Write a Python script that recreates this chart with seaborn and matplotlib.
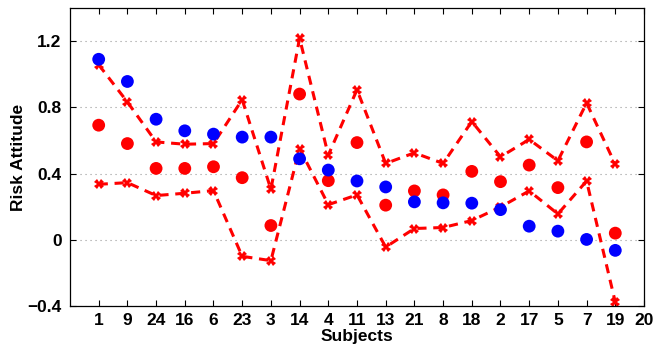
import matplotlib
matplotlib.use("Agg")
import matplotlib.pyplot as plt
import seaborn as sns
import numpy as np
import pandas as pd

subjects = ["1", "9", "24", "16", "6", "23", "3", "14", "4", "11", "13", "21",
            "8", "18", "2", "17", "5", "7", "19", "20"]
blue_vals = [1.09, 0.956, 0.728, 0.658, 0.638, 0.62, 0.62, 0.489, 0.421, 0.355,
             0.319, 0.229, 0.223, 0.221, 0.182, 0.082, 0.052, 0.002, -0.064]
red_vals = [0.692, 0.581, 0.431, 0.431, 0.441, 0.375, 0.086, 0.880, 0.357, 0.587,
            0.209, 0.295, 0.271, 0.413, 0.351, 0.451, 0.315, 0.591, 0.040]
upper_vals = [1.057, 0.832, 0.591, 0.577, 0.581, 0.846, 0.305, 1.217, 0.511, 0.906,
              0.461, 0.525, 0.461, 0.714, 0.501, 0.606, 0.477, 0.826, 0.455]
lower_vals = [0.335, 0.345, 0.267, 0.281, 0.297, -0.100, -0.126, 0.551, 0.212, 0.271,
              -0.044, 0.068, 0.074, 0.116, 0.198, 0.295, 0.156, 0.355, -0.377]

pos = np.arange(1, len(blue_vals) + 1)
df = pd.DataFrame({"pos": pos, "blue": blue_vals, "red": red_vals,
                   "upper": upper_vals, "lower": lower_vals})

sns.set_style("white")
plt.rcParams['font.family'] = ['Liberation Sans', 'DejaVu Sans']
plt.rcParams['font.weight'] = 'bold'
plt.rcParams['text.color'] = 'black'
plt.rcParams['axes.labelcolor'] = 'black'
plt.rcParams['xtick.color'] = 'black'
plt.rcParams['ytick.color'] = 'black'

FS = 12.5
fig = plt.figure(figsize=(6.56, 3.46), dpi=100)
ax = fig.add_axes([0.1067, 0.1156, 0.875, 0.8614])

for col in ["upper", "lower"]:
    sns.lineplot(data=df, x="pos", y=col, ax=ax, color="#ff0000", linestyle=(0, (3, 2.2)),
                 linewidth=2.2, marker="X", markersize=7, markeredgewidth=0,
                 zorder=2)
sns.scatterplot(data=df, x="pos", y="red", ax=ax, color="#ff0000", s=85,
                edgecolor="none", zorder=3)
sns.scatterplot(data=df, x="pos", y="blue", ax=ax, color="#0000ff", s=85,
                edgecolor="none", zorder=3)

ax.set_xlim(0, 20)
ax.set_ylim(-0.4, 1.4)
ax.set_xticks(np.arange(1, 21))
ax.set_xticklabels(subjects, fontsize=FS, fontweight='bold')
ax.set_yticks([-0.4, 0, 0.4, 0.8, 1.2])
ax.set_yticklabels(["\u22120.4", "0", "0.4", "0.8", "1.2"], fontsize=FS, fontweight='bold')
ax.yaxis.grid(True, linestyle=(0, (1, 3.5)), color="#999999", linewidth=0.8)
ax.xaxis.grid(False)
ax.tick_params(direction="in", length=4.5, width=0.8, top=True, right=True,
               bottom=True, left=True, color="black")
ax.tick_params(axis="x", pad=5)
ax.tick_params(axis="y", pad=6)
for sp in ax.spines.values():
    sp.set_color("black")
    sp.set_linewidth(0.9)
ax.set_xlabel("Subjects", fontsize=FS, fontweight='bold', labelpad=1)
ax.set_ylabel("Risk Attitude", fontsize=FS, fontweight='bold', labelpad=1)

fig.savefig("out.png", dpi=100)
